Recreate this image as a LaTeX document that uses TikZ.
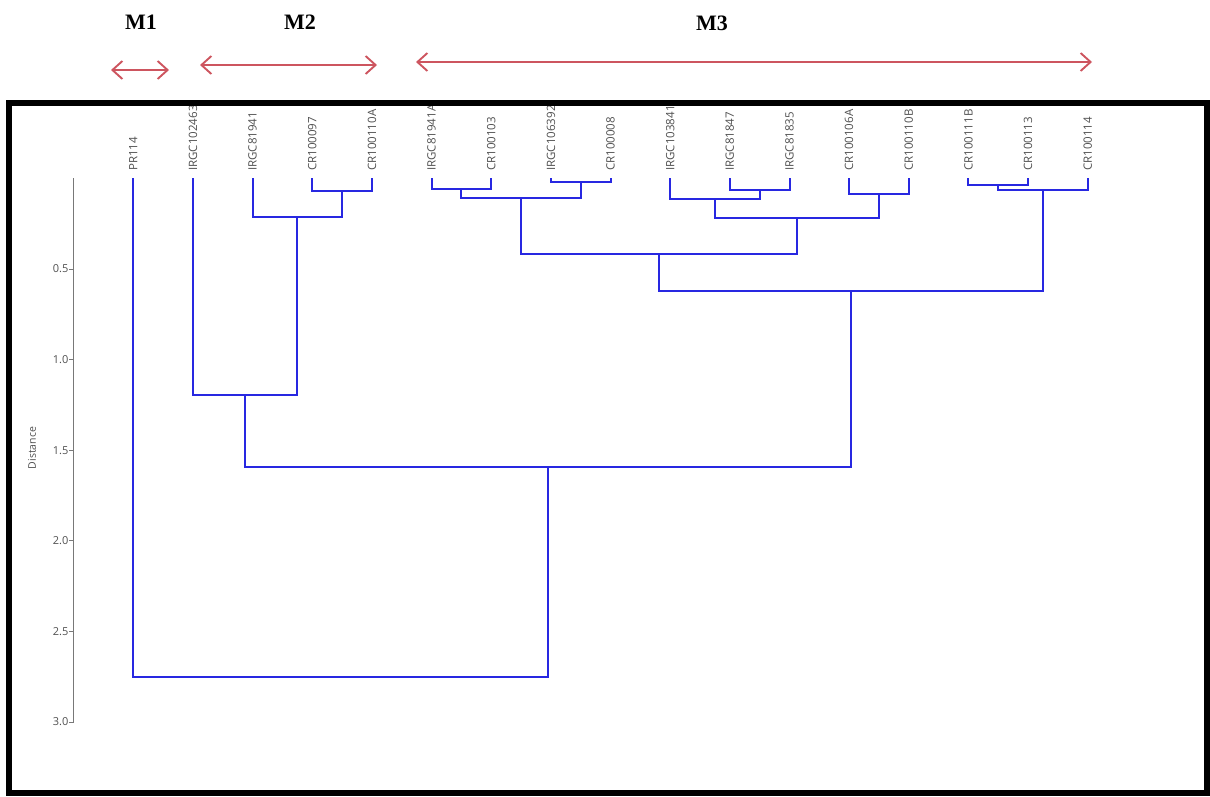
\documentclass[tikz,border=0pt]{standalone}
\usepackage{fontspec}
\setmainfont{Liberation Serif}
\newfontfamily\labfont{Open Sans}
\usetikzlibrary{arrows.meta}
\definecolor{dendro}{RGB}{40,40,225}
\definecolor{grp}{RGB}{205,85,95}
\definecolor{labgray}{RGB}{80,80,80}
\definecolor{axgray}{RGB}{120,120,120}
\tikzset{
  leaflab/.style={rotate=90,anchor=west,inner sep=0pt,font=\labfont\fontsize{11.5}{12}\selectfont,text=labgray},
  link/.style={draw=dendro,line width=2pt},
  axisline/.style={draw=axgray,line width=1pt},
  ticklab/.style={anchor=east,inner sep=0pt,font=\labfont\fontsize{11}{12}\selectfont,text=labgray},
  grouplab/.style={inner sep=0pt,font=\bfseries\fontsize{22}{24}\selectfont,text=black},
  grouparrow/.style={draw=grp,line width=1.9pt,{Straight Barb[length=10pt,width=18pt]}-{Straight Barb[length=10pt,width=18pt]}},
  frameline/.style={draw=black,line width=6pt}
}
\begin{document}
\begin{tikzpicture}[x=1pt,y=-1pt]
\useasboundingbox (0,0) rectangle (1210,796);
% group labels and arrows
\node[grouplab] (M1) at (141,22) {M1};
\node[grouplab] (M2) at (300,22) {M2};
\node[grouplab] (M3) at (712,23) {M3};
\coordinate (m1a) at (111,70);  \coordinate (m1b) at (169,70);
\coordinate (m2a) at (200,65);  \coordinate (m2b) at (377,65);
\coordinate (m3a) at (416,62);  \coordinate (m3b) at (1092,62);
\draw[grouparrow] (m1a) -- (m1b);
\draw[grouparrow] (m2a) -- (m2b);
\draw[grouparrow] (m3a) -- (m3b);
% leaves
\foreach \i/\x/\t in {0/133.3/PR114,1/193.0/IRGC102463,2/252.6/IRGC81941,3/312.3/CR100097,
  4/371.9/CR100110A,5/431.6/IRGC81941A,6/491.2/CR100103,7/550.9/IRGC106392,8/610.5/CR100008,
  9/670.2/IRGC103841,10/729.8/IRGC81847,11/789.5/IRGC81835,12/849.1/CR100106A,13/908.8/CR100110B,
  14/968.4/CR100111B,15/1028.1/CR100113,16/1087.7/CR100114}{
  \coordinate (L\i) at (\x,178);
  \node[leaflab] (T\i) at (\x,171) {\t};
}
% merge points
\coordinate (a) at (342.1,191);
\coordinate (b) at (297.35,217);
\coordinate (c) at (245.2,395);
\coordinate (d) at (461.4,189);
\coordinate (e) at (580.7,182);
\coordinate (f) at (521.05,198);
\coordinate (g) at (759.65,190);
\coordinate (h) at (714.9,199);
\coordinate (i) at (878.95,194);
\coordinate (j) at (796.9,218);
\coordinate (k) at (659.0,254);
\coordinate (l) at (998.25,185);
\coordinate (m) at (1043.0,190);
\coordinate (n) at (851.0,291);
\coordinate (o) at (548.1,467);
\coordinate (p) at (340.7,677);
% links
\draw[link] (L3) |- (a) -| (L4);
\draw[link] (L2) |- (b) -| (a);
\draw[link] (L1) |- (c) -| (b);
\draw[link] (L5) |- (d) -| (L6);
\draw[link] (L7) |- (e) -| (L8);
\draw[link] (d) |- (f) -| (e);
\draw[link] (L10) |- (g) -| (L11);
\draw[link] (L9) |- (h) -| (g);
\draw[link] (L12) |- (i) -| (L13);
\draw[link] (h) |- (j) -| (i);
\draw[link] (f) |- (k) -| (j);
\draw[link] (L14) |- (l) -| (L15);
\draw[link] (l) |- (m) -| (L16);
\draw[link] (k) |- (n) -| (m);
\draw[link] (c) |- (o) -| (n);
\draw[link] (L0) |- (p) -| (o);
% axis
\coordinate (ax0) at (73.7,178);
\coordinate (ax1) at (73.7,722);
\draw[axisline] (ax0) -- (ax1);
\foreach \k/\d/\lab in {1/0.5/0.5,2/1.0/1.0,3/1.5/1.5,4/2.0/2.0,5/2.5/2.5,6/3.0/3.0}{
  \pgfmathsetmacro{\yy}{178.4+181.2*\d}
  \coordinate (tk\k) at (73.7,\yy);
  \coordinate (te\k) at (69.2,\yy);
  \draw[axisline] (tk\k) -- (te\k);
  \node[ticklab] (tl\k) at (68.5,\yy) {\lab};
}
\node[rotate=90,inner sep=0pt,font=\labfont\fontsize{10.5}{11}\selectfont,text=labgray] (dist) at (32,448) {Distance};
% frame
\draw[frameline] (9,103) rectangle (1207,793);
\end{tikzpicture}
\end{document}
